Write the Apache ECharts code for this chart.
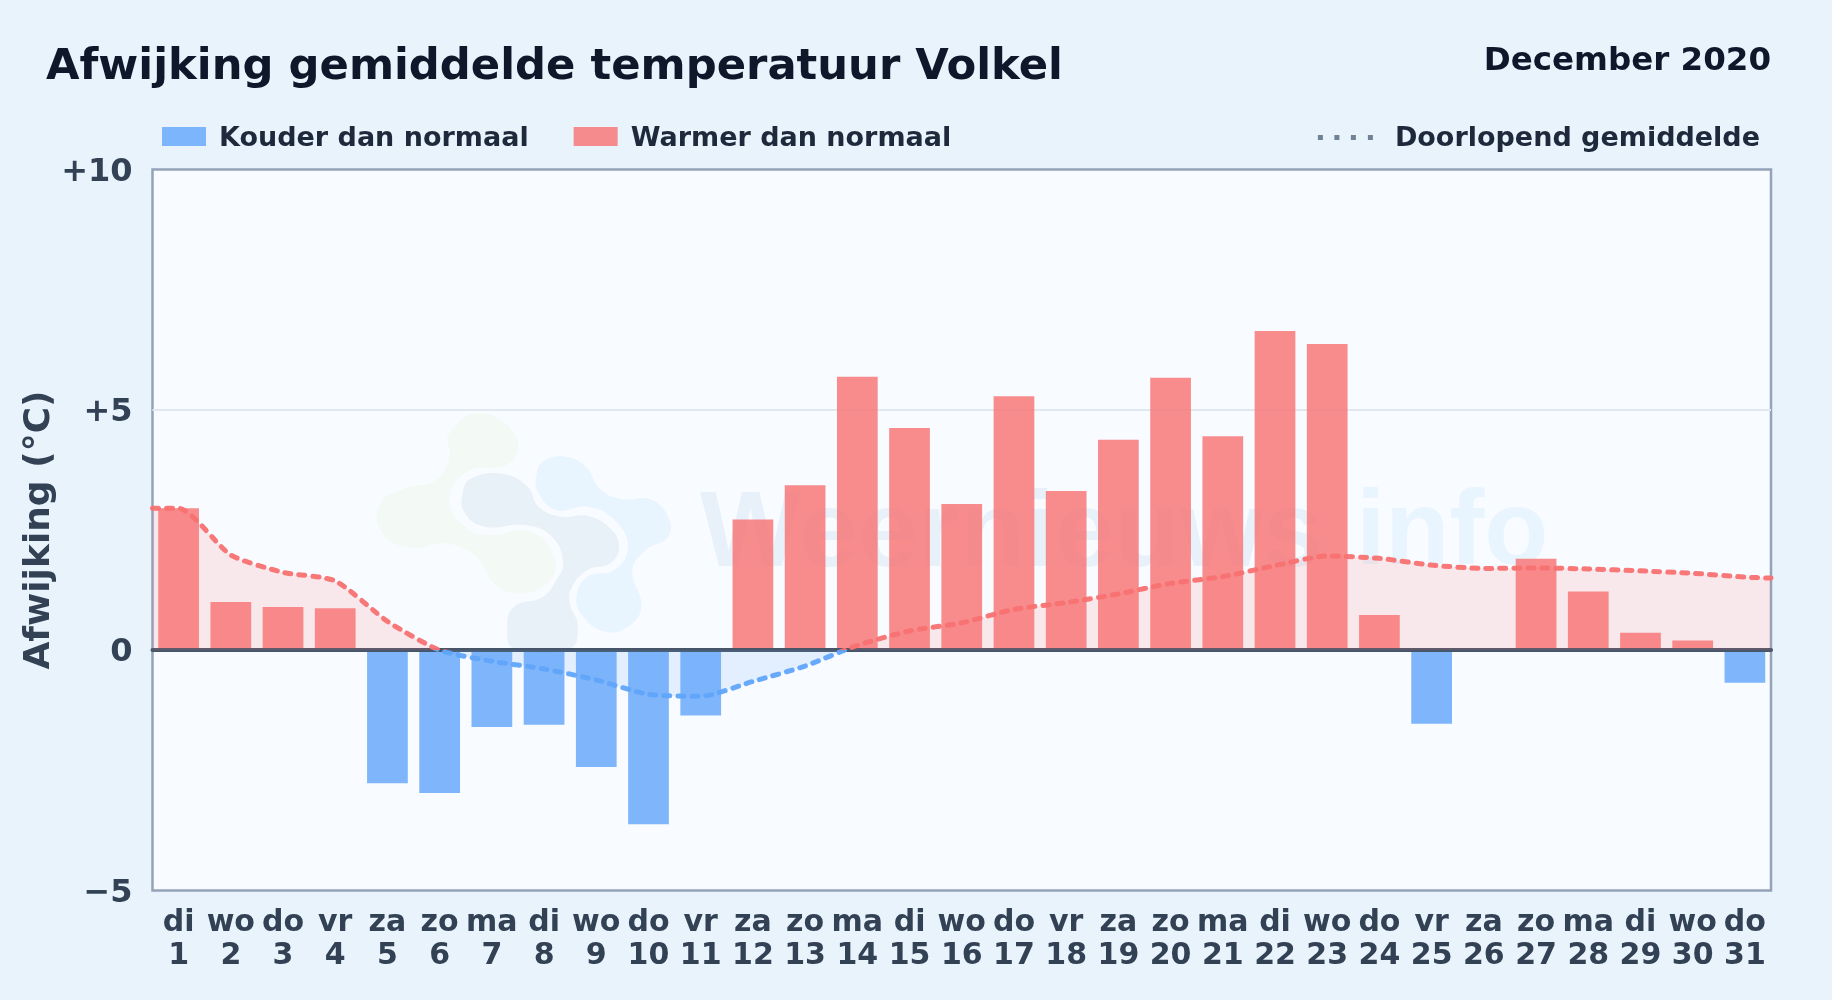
<!DOCTYPE html>
<html><head><meta charset="utf-8">
<style>html,body{margin:0;padding:0;background:#e8f3fc}#c{width:1832px;height:1000px}</style>
<script src="https://cdn.jsdelivr.net/npm/echarts@6/dist/echarts.min.js"></script>
</head><body><div id="c"></div>
<script>
const weekdays = ['di','wo','do','vr','za','zo','ma','di','wo','do','vr','za','zo','ma','di','wo','do','vr','za','zo','ma','di','wo','do','vr','za','zo','ma','di','wo','do'];
const days = [1,2,3,4,5,6,7,8,9,10,11,12,13,14,15,16,17,18,19,20,21,22,23,24,25,26,27,28,29,30,31];
const deviation = [2.95,1.0,0.9,0.87,-2.77,-2.97,-1.6,-1.55,-2.43,-3.62,-1.36,2.72,3.43,5.69,4.62,3.04,5.28,3.31,4.38,5.67,4.45,6.64,6.37,0.73,-1.53,0,1.9,1.22,0.36,0.2,-0.68];
const runningX = [0.5,1,2,3,4,5,6,7,8,9,10,11,12,13,14,15,16,17,18,19,20,21,22,23,24,25,26,27,28,29,30,31,31.5];
const runningMean = [2.95,2.95,1.98,1.62,1.44,0.6,0,-0.23,-0.39,-0.62,-0.92,-0.96,-0.65,-0.33,0.1,0.4,0.57,0.85,0.99,1.17,1.39,1.53,1.76,1.96,1.91,1.77,1.7,1.71,1.69,1.65,1.6,1.52,1.5];
const coldName = 'Kouder dan normaal', warmName = 'Warmer dan normaal', meanName = 'Doorlopend gemiddelde';
const FONT = '"DejaVu Sans"';

const greenBlob = [[200,100],[270,40],[350,110],[335,190],[240,215],[200,300],[240,385],[290,405],[380,395],[435,470],[420,550],[350,580],[300,550],[260,470],[190,430],[120,445],[50,400],[45,310],[100,265],[170,240],[200,170]];
const navyBlob = [[230,280],[250,235],[320,222],[375,260],[400,320],[450,350],[510,348],[560,385],[580,440],[560,490],[510,510],[475,560],[470,610],[488,680],[470,745],[345,745],[330,680],[345,620],[410,590],[440,540],[455,490],[430,410],[370,375],[280,380],[235,340]];
const skyBlob = [[395,230],[410,185],[460,170],[505,200],[540,270],[590,298],[650,298],[690,350],[690,410],[640,450],[610,510],[630,620],[600,680],[550,695],[500,650],[485,590],[510,530],[570,510],[600,440],[570,360],[510,320],[440,330],[400,280]];
const toPage = pts => pts.map(p => [360 + p[0] / 2.24, 400 + p[1] / 3]);
const blob = (pts, fill) => ({type:'polygon', silent:true, shape:{points:toPage(pts), smooth:0.45}, style:{fill}});
const legendRich = top => ({t:{fontFamily:FONT,fontSize:27,fontWeight:'bold',color:'#1e293b',padding:[top,0,0,0]}});

const chart = echarts.init(document.getElementById('c'), null, {renderer:'canvas'});
chart.setOption({
  animation:false,
  backgroundColor:'#e8f3fc',
  textStyle:{fontFamily:FONT},
  title:[
    {text:'Afwijking gemiddelde temperatuur Volkel', left:46, top:46, padding:0, textStyle:{fontFamily:FONT,fontSize:43.3,fontWeight:'bold',color:'#0f172a'}},
    {text:'December 2020', right:61, top:45, padding:0, textStyle:{fontFamily:FONT,fontSize:32.5,fontWeight:'bold',color:'#0f172a'}}
  ],
  legend:[
    {left:162, top:125.5, padding:0, itemWidth:44, itemHeight:19, itemGap:45, selectedMode:false,
     formatter:'{t|{name}}',
     textStyle:{fontFamily:FONT,fontSize:27,fontWeight:'bold',color:'#1e293b',padding:[0,0,0,8],rich:legendRich(5)},
     data:[{name:coldName,icon:'rect'},{name:warmName,icon:'rect'}]},
    {right:72, top:125.5, padding:0, itemWidth:55, itemHeight:5, selectedMode:false,
     formatter:'{t|{name}}',
     textStyle:{fontFamily:FONT,fontSize:27,fontWeight:'bold',color:'#1e293b',padding:[0,0,0,17],rich:legendRich(3)},
     data:[{name:meanName,
       icon:'path://M0 0h5v5h-5zM16.5 0h5v5h-5zM33 0h5v5h-5zM50 0h5v5h-5z',
       itemStyle:{color:'#64748b',opacity:0.9}, lineStyle:{opacity:0}}]}
  ],
  grid:{left:152.5, right:61, top:169.5, bottom:109.5, show:true, backgroundColor:'#f8fbff', borderColor:'#94a3b8', borderWidth:2.5, containLabel:false},
  xAxis:[
    {type:'category', data:days.map((d,i)=>weekdays[i]+'\n'+d), z:3,
     axisTick:{show:false}, axisLine:{onZero:true,lineStyle:{color:'#475569',width:4}},
     axisLabel:{interval:0, margin:16.5, fontFamily:FONT, fontSize:30, fontWeight:'bold', color:'#334155', lineHeight:33}, splitLine:{show:false}},
    {type:'value', min:0.5, max:31.5, show:false, splitLine:{show:false}}
  ],
  yAxis:{type:'value', min:-5, max:10, interval:5,
    name:'Afwijking (°C)', nameLocation:'middle', nameRotate:90, nameGap:95, nameMoveOverlap:false,
    nameTextStyle:{fontFamily:FONT,fontSize:36,fontWeight:'bold',color:'#334155'},
    axisLine:{show:false}, axisTick:{show:false},
    axisLabel:{margin:20,fontFamily:FONT,fontSize:32,fontWeight:'bold',color:'#334155',verticalAlign:'top',lineHeight:6,
      formatter:v=> v>0 ? '+'+v : (v<0 ? '\u2212'+Math.abs(v) : '0')},
    splitLine:{show:true,showMinLine:false,showMaxLine:false,lineStyle:{color:'#e2e8f0',width:2}}},
  visualMap:{show:false, seriesIndex:2, dimension:1, pieces:[{min:-5,max:0,color:'#60a5fa'},{min:0,max:10,color:'#f87171'}]},
  graphic:{z:0, zlevel:0, elements:[
    blob(greenBlob,'#f3f9f4'), blob(navyBlob,'#e8f0f8'), blob(skyBlob,'#e8f4fe'),
    {type:'text', silent:true, left:700, top:483, style:{text:'Weernieuws', font:'bold 107px "Liberation Sans"', fill:'#e8f1fa'}},
    {type:'text', silent:true, left:1356, top:483, style:{text:'info', font:'bold 105px "Liberation Sans"', fill:'#e8f4fe'}}
  ]},
  series:[
    {name:coldName, type:'bar', stack:'d', barCategoryGap:'22%', z:2, xAxisIndex:0,
     itemStyle:{color:'#60a5fa',opacity:0.8}, data:deviation.map(v=>v<0?v:null)},
    {name:warmName, type:'bar', stack:'d', barCategoryGap:'22%', z:2, xAxisIndex:0,
     itemStyle:{color:'#f87171',opacity:0.8}, data:deviation.map(v=>v>0?v:null)},
    {name:meanName, type:'line', xAxisIndex:1, z:4, smooth:0.22, showSymbol:false, symbol:'none',
     lineStyle:{width:5,type:[6,8],cap:'round',opacity:0.95}, areaStyle:{opacity:0.14},
     data:runningX.map((x,i)=>[x,runningMean[i]])}
  ]
});
</script></body></html>
